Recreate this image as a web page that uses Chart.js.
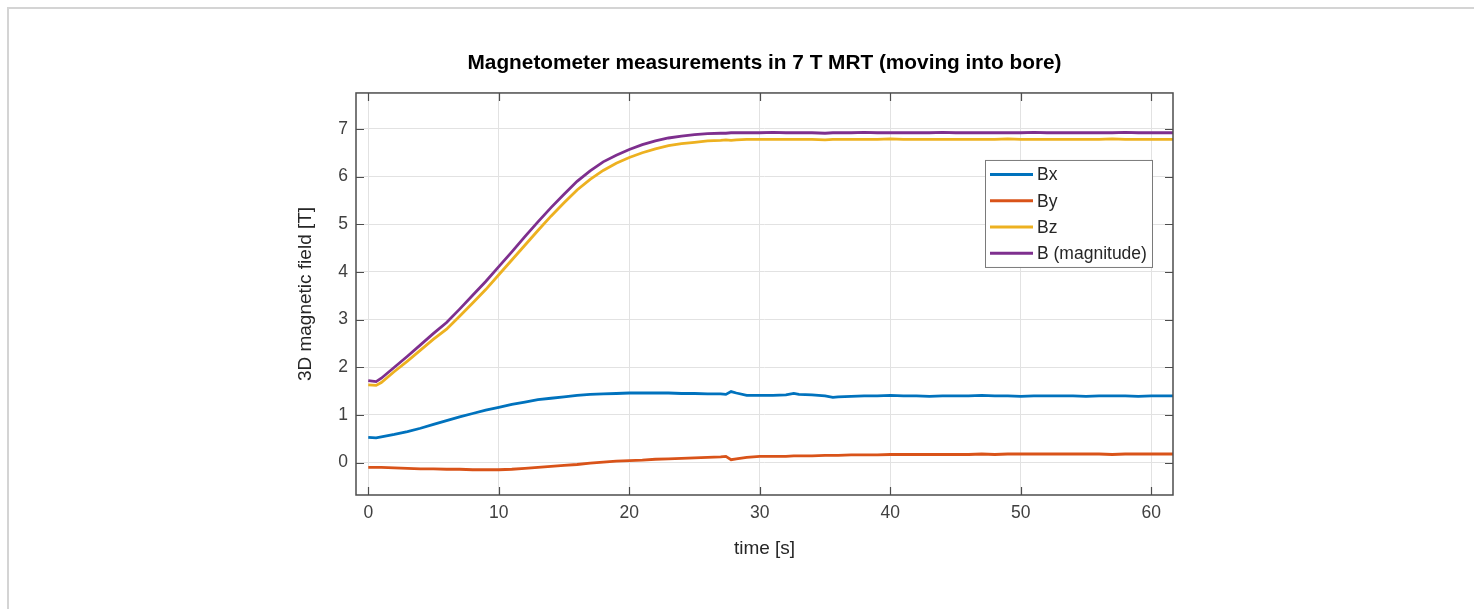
<!DOCTYPE html>
<html>
<head>
<meta charset="utf-8">
<title>Magnetometer measurements in 7 T MRT</title>
<script src="https://cdn.jsdelivr.net/npm/chart.js@4.4.0/dist/chart.umd.min.js"></script>
<style>
  html, body { margin: 0; padding: 0; background: #fff; overflow: hidden; }
  #frame { position: absolute; left: 7px; top: 7px; width: 1600px; height: 800px;
           border: 2px solid #d4d4d4; box-sizing: border-box; }
  #chart { position: absolute; left: 0; top: 0; }
</style>
</head>
<body>
<div id="frame"></div>
<canvas id="chart" width="1474" height="609"></canvas>
<script>
'use strict';

// time axis [s], shared by all four series
var timeS = [0, 0.6, 1, 2, 3, 4, 5, 6, 7, 8,
  9, 10, 11, 12, 13, 14, 15, 16, 17, 18,
  19, 20, 21, 22, 23, 24, 25, 26, 27, 27.4,
  27.8, 28.2, 29, 30, 31, 32, 32.6, 33, 34, 35,
  35.6, 36, 37, 38, 39, 40, 41, 42, 43, 44,
  45, 46, 47, 48, 49, 50, 51, 52, 53, 54,
  55, 56, 57, 58, 59, 60, 61, 61.7];

var bx = [0.53, 0.52, 0.54, 0.59, 0.65, 0.72, 0.80, 0.88, 0.96, 1.03,
  1.10, 1.16, 1.22, 1.27, 1.32, 1.35, 1.38, 1.41, 1.43, 1.44,
  1.45, 1.46, 1.46, 1.46, 1.46, 1.45, 1.45, 1.44, 1.44, 1.43,
  1.49, 1.46, 1.41, 1.41, 1.41, 1.42, 1.45, 1.43, 1.42, 1.40,
  1.37, 1.38, 1.39, 1.40, 1.40, 1.41, 1.40, 1.40, 1.39, 1.40,
  1.40, 1.40, 1.41, 1.40, 1.40, 1.39, 1.40, 1.40, 1.40, 1.40,
  1.39, 1.40, 1.40, 1.40, 1.39, 1.40, 1.40, 1.40];

var by = [-0.10, -0.10, -0.10, -0.11, -0.12, -0.13, -0.13, -0.14, -0.14, -0.15,
  -0.15, -0.15, -0.14, -0.12, -0.10, -0.08, -0.06, -0.04, -0.01, 0.01,
  0.03, 0.04, 0.05, 0.07, 0.08, 0.09, 0.10, 0.11, 0.12, 0.13,
  0.06, 0.08, 0.11, 0.13, 0.13, 0.13, 0.14, 0.14, 0.14, 0.15,
  0.15, 0.15, 0.16, 0.16, 0.16, 0.17, 0.17, 0.17, 0.17, 0.17,
  0.17, 0.17, 0.18, 0.17, 0.18, 0.18, 0.18, 0.18, 0.18, 0.18,
  0.18, 0.18, 0.17, 0.18, 0.18, 0.18, 0.18, 0.18];

var bz = [1.63, 1.62, 1.68, 1.91, 2.13, 2.36, 2.59, 2.80, 3.07, 3.35,
  3.63, 3.94, 4.25, 4.56, 4.87, 5.17, 5.45, 5.72, 5.94, 6.13,
  6.28, 6.40, 6.50, 6.58, 6.65, 6.69, 6.72, 6.75, 6.76, 6.77,
  6.76, 6.77, 6.78, 6.78, 6.78, 6.78, 6.78, 6.78, 6.78, 6.77,
  6.78, 6.78, 6.78, 6.78, 6.78, 6.79, 6.78, 6.78, 6.78, 6.78,
  6.78, 6.78, 6.78, 6.78, 6.79, 6.78, 6.78, 6.78, 6.78, 6.78,
  6.78, 6.78, 6.79, 6.78, 6.78, 6.78, 6.78, 6.78];

var bMag = [1.72, 1.70, 1.77, 2.00, 2.23, 2.47, 2.71, 2.94, 3.22, 3.51,
  3.80, 4.11, 4.42, 4.74, 5.05, 5.35, 5.63, 5.90, 6.12, 6.31,
  6.45, 6.57, 6.67, 6.75, 6.81, 6.85, 6.88, 6.90, 6.91, 6.91,
  6.92, 6.92, 6.92, 6.92, 6.93, 6.92, 6.92, 6.92, 6.92, 6.91,
  6.92, 6.92, 6.92, 6.93, 6.92, 6.92, 6.92, 6.92, 6.92, 6.93,
  6.92, 6.92, 6.92, 6.92, 6.92, 6.92, 6.93, 6.92, 6.92, 6.92,
  6.92, 6.92, 6.92, 6.93, 6.92, 6.92, 6.92, 6.92];

var seriesLabels = ['Bx', 'By', 'Bz', 'B (magnitude)'];
var xTicks = [0, 10, 20, 30, 40, 50, 60];
var yTicks = [0, 1, 2, 3, 4, 5, 6, 7];

(function () {

  var fontFamily = "'Liberation Sans', Arial, Helvetica, sans-serif";
  var colors = ['#0072BD', '#D95319', '#EDB120', '#7E2F8E'];
  var tickLen = 8;

  function toPoints(values) {
    return timeS.map(function (t, i) { return { x: t, y: values[i] }; });
  }

  function setTicks(list) {
    return function (scale) {
      scale.ticks = list.map(function (v) { return { value: v }; });
    };
  }

  // matlab-like box with inward ticks, plus the legend inside the axes
  var axesBoxPlugin = {
    id: 'axesBox',
    afterDraw: function (chart) {
      var ctx = chart.ctx;
      var a = chart.chartArea;
      var xs = chart.scales.x;
      var ys = chart.scales.y;

      ctx.save();
      ctx.strokeStyle = '#4d4d4d';
      ctx.lineWidth = 1.5;
      ctx.strokeRect(a.left, a.top, a.right - a.left, a.bottom - a.top);

      ctx.beginPath();
      xTicks.forEach(function (v) {
        var px = Math.round(xs.getPixelForValue(v)) + 0.5;
        ctx.moveTo(px, a.bottom); ctx.lineTo(px, a.bottom - tickLen);
        ctx.moveTo(px, a.top); ctx.lineTo(px, a.top + tickLen);
      });
      yTicks.forEach(function (v) {
        var py = Math.round(ys.getPixelForValue(v)) + 0.5;
        ctx.moveTo(a.left, py); ctx.lineTo(a.left + tickLen, py);
        ctx.moveTo(a.right, py); ctx.lineTo(a.right - tickLen, py);
      });
      ctx.lineWidth = 1.2;
      ctx.stroke();

      // legend
      var lx = a.right - 188;
      var ly = a.top + 67;
      var lw = 167;
      var lh = 107;
      ctx.fillStyle = '#ffffff';
      ctx.fillRect(lx, ly, lw, lh);
      ctx.strokeStyle = '#7a7a7a';
      ctx.lineWidth = 1;
      ctx.strokeRect(lx + 0.5, ly + 0.5, lw, lh);

      ctx.font = '17.5px ' + fontFamily;
      ctx.textBaseline = 'middle';
      ctx.textAlign = 'left';
      seriesLabels.forEach(function (label, i) {
        var ry = ly + 14.5 + i * 26.3;
        ctx.strokeStyle = colors[i];
        ctx.lineWidth = 3;
        ctx.beginPath();
        ctx.moveTo(lx + 5, ry);
        ctx.lineTo(lx + 48, ry);
        ctx.stroke();
        ctx.fillStyle = '#262626';
        ctx.fillText(label, lx + 52, ry + 1);
      });
      ctx.restore();
    }
  };

  var allValues = [bx, by, bz, bMag];
  var datasets = allValues.map(function (values, i) {
    return {
      label: seriesLabels[i],
      data: toPoints(values),
      borderColor: colors[i],
      backgroundColor: colors[i],
      borderWidth: 2.8,
      pointRadius: 0,
      tension: 0,
      fill: false,
      order: 3 - i
    };
  });

  var ctx = document.getElementById('chart');
  var myChart = new Chart(ctx, {
    type: 'line',
    data: { datasets: datasets },
    plugins: [axesBoxPlugin],
    options: {
      responsive: false,
      animation: false,
      devicePixelRatio: 1,
      layout: {
        padding: { left: 280, right: 301, top: 0, bottom: 0 }
      },
      plugins: {
        legend: { display: false },
        tooltip: { enabled: false },
        title: {
          display: true,
          fullSize: false,
          text: 'Magnetometer measurements in 7 T MRT (moving into bore)',
          color: '#000000',
          font: { family: fontFamily, size: 20.8, weight: 'bold' },
          padding: { top: 51, bottom: 17 }
        }
      },
      scales: {
        x: {
          type: 'linear',
          min: -0.94,
          max: 61.66,
          afterBuildTicks: setTicks(xTicks),
          afterFit: function (scale) { scale.height = 114; },
          grid: { color: '#e2e2e2', lineWidth: 1, drawTicks: false },
          border: { display: false },
          ticks: {
            color: '#404040',
            padding: 8,
            maxRotation: 0,
            font: { family: fontFamily, size: 17.5 }
          },
          title: {
            display: true,
            text: 'time [s]',
            color: '#262626',
            font: { family: fontFamily, size: 19 },
            padding: { top: 0, bottom: 48.6 }
          }
        },
        y: {
          type: 'linear',
          min: -0.68,
          max: 7.755,
          afterBuildTicks: setTicks(yTicks),
          afterFit: function (scale) { scale.width = 76; },
          grid: { color: '#e2e2e2', lineWidth: 1, drawTicks: false },
          border: { display: false },
          ticks: {
            color: '#404040',
            padding: 8,
            font: { family: fontFamily, size: 17.5 }
          },
          title: {
            display: true,
            text: '3D magnetic field [T]',
            color: '#262626',
            font: { family: fontFamily, size: 19 },
            padding: { top: 14.6, bottom: 0 }
          }
        }
      }
    }
  });

})();
</script>
</body>
</html>
